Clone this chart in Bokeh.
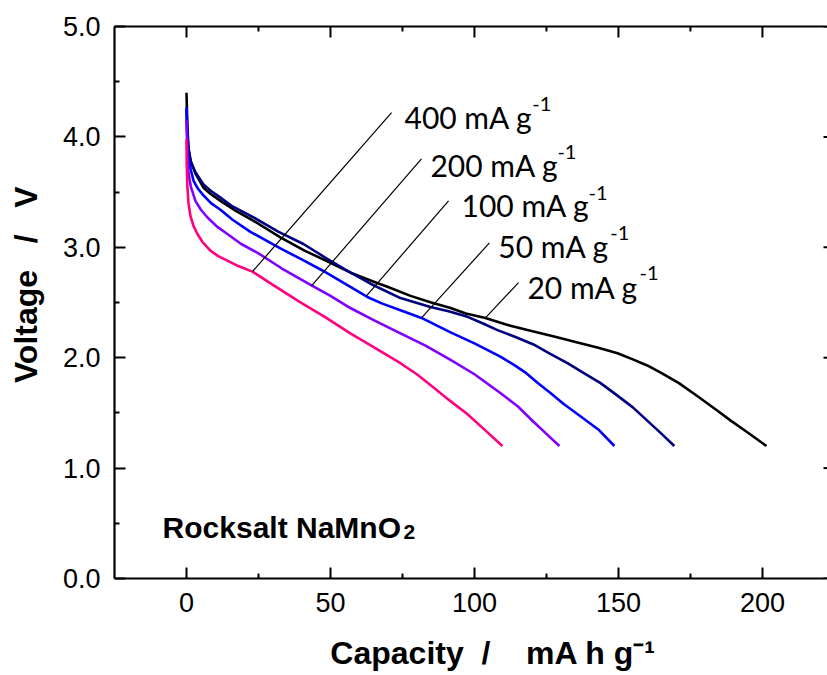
import math
from bokeh.plotting import figure
from bokeh.models import (LinearAxis, Label, ColumnDataSource, FixedTicker,
                          PrintfTickFormatter, Range1d)
from bokeh.core.properties import value
from bokeh.embed import file_html
from bokeh.resources import INLINE

# ---------------- data ----------------
cap_20 = [0, 0.3, 0.7, 1.5, 3.1, 5.9, 8.5, 11.8, 16.5, 23.3, 32.6, 41, 50, 57, 63.9, 70, 77.8,
          85, 91.7, 97, 103.8, 111, 118.4, 128, 136.8, 143, 149.7, 155, 160, 165, 171, 177,
          184.4, 189, 195, 201.4]
volt_20 = [4.40, 4.10, 3.90, 3.78, 3.67, 3.54, 3.48, 3.42, 3.34, 3.24, 3.09, 2.97, 2.86, 2.77,
           2.70, 2.64, 2.56, 2.50, 2.45, 2.40, 2.36, 2.30, 2.25, 2.19, 2.13, 2.09, 2.04, 1.985,
           1.93, 1.86, 1.77, 1.66, 1.52, 1.43, 1.32, 1.20]

cap_50 = [0, 0.3, 0.7, 1.5, 3.1, 5.9, 8.5, 11.8, 16, 23.3, 32, 40.6, 48, 55, 63.9, 74.3, 84.7,
          91, 97.6, 103, 108, 114, 120.5, 126, 132.3, 138, 143.8, 150, 155, 160, 165, 169.4]
volt_50 = [4.25, 4.02, 3.88, 3.77, 3.68, 3.57, 3.51, 3.45, 3.37, 3.27, 3.14, 3.03, 2.91, 2.80,
           2.67, 2.54, 2.46, 2.42, 2.37, 2.31, 2.25, 2.19, 2.12, 2.04, 1.95, 1.86, 1.77, 1.65,
           1.55, 1.43, 1.31, 1.20]

cap_100 = [0, 0.3, 0.7, 1.5, 2.5, 4, 5.9, 8.5, 11.8, 16, 22.2, 32.6, 40, 47.2, 55, 62.8, 68,
           74.3, 81.6, 91.7, 100, 109, 114, 118, 122, 126.4, 131, 136.8, 143, 148.6]
volt_100 = [4.27, 3.98, 3.81, 3.70, 3.60, 3.53, 3.47, 3.40, 3.34, 3.25, 3.14, 2.99, 2.89, 2.79,
            2.67, 2.55, 2.49, 2.43, 2.36, 2.23, 2.13, 2.01, 1.93, 1.86, 1.77, 1.68, 1.58, 1.47,
            1.35, 1.20]

cap_200 = [0, 0.3, 0.7, 1.5, 3.1, 5, 7.3, 10.5, 14.2, 19, 24.7, 33, 43.1, 50, 56.9, 65, 74.3,
           83, 91.7, 100, 109, 115, 120.5, 125, 129.5]
volt_200 = [4.15, 3.85, 3.67, 3.55, 3.42, 3.34, 3.27, 3.19, 3.12, 3.03, 2.95, 2.81, 2.66, 2.56,
            2.45, 2.34, 2.22, 2.11, 1.98, 1.85, 1.68, 1.56, 1.42, 1.31, 1.20]

cap_400 = [0, 0.1, 0.3, 0.7, 1.4, 2.5, 3.8, 5.5, 8.3, 11, 14.2, 18, 22.9, 30, 39, 48, 56.9, 66,
           74.3, 80, 85.8, 91, 97.5, 103, 109.7]
volt_400 = [3.98, 3.75, 3.55, 3.40, 3.28, 3.19, 3.12, 3.05, 2.97, 2.92, 2.88, 2.83, 2.78, 2.66,
            2.51, 2.37, 2.22, 2.08, 1.95, 1.85, 1.73, 1.62, 1.49, 1.36, 1.20]

rate_names = ["400 mA g", "200 mA g", "100 mA g", "50 mA g", "20 mA g"]
x_ticks = [0, 50, 100, 150, 200]
x_minor = [25, 75, 125, 175]
y_ticks = [0, 1, 2, 3, 4, 5]
y_minor = [0.5, 1.5, 2.5, 3.5, 4.5]

# ---------------- annotation layout ----------------
lead_x0 = [71.2, 81.6, 91.0, 105.2, 115.3]
lead_y0 = [4.22, 3.80, 3.42, 3.04, 2.68]
lead_x1 = [22.9, 43.4, 62.5, 81.6, 103.8]
lead_y1 = [2.78, 2.65, 2.56, 2.36, 2.36]
lab_x = [75.7, 84.7, 95.5, 108.3, 118.4]
lab_y = [4.176, 3.741, 3.379, 3.016, 2.636]
sup_x = [120.1, 128.8, 139.6, 147.2, 157.3]
sup_y = [4.294, 3.859, 3.496, 3.134, 2.763]

X_LO, X_HI = -25, 222.6
Y_LO, Y_HI = 0, 5

series = [
    (cap_20, volt_20, "#000000"),
    (cap_50, volt_50, "#000080"),
    (cap_100, volt_100, "#0000FF"),
    (cap_200, volt_200, "#8000FF"),
    (cap_400, volt_400, "#FF0080"),
]

NB = "\u00a0"

p = figure(width=827, height=675, x_range=Range1d(X_LO, X_HI), y_range=Range1d(Y_LO, Y_HI),
           output_backend="svg", toolbar_location=None,
           x_axis_type=None, y_axis_type=None,
           min_border_left=114, min_border_right=0, min_border_top=26, min_border_bottom=97)
p.outline_line_color = None
p.background_fill_color = "white"
p.border_fill_color = "white"


def style(ax):
    ax.axis_line_width = 2.2
    ax.axis_line_color = "black"
    ax.major_tick_in = 11
    ax.major_tick_out = 0
    ax.minor_tick_in = 5
    ax.minor_tick_out = 0
    ax.major_tick_line_width = 2
    ax.minor_tick_line_width = 2
    ax.major_tick_line_color = "black"
    ax.minor_tick_line_color = "black"
    ax.major_label_text_font = "Liberation Sans"
    ax.major_label_text_font_size = "27px"
    ax.major_label_text_color = "black"
    ax.major_label_standoff = 14
    ax.axis_label_text_font = "Liberation Sans"
    ax.axis_label_text_font_style = "bold"
    ax.axis_label_text_font_size = "32px"
    ax.axis_label_text_color = "black"


bx = LinearAxis(ticker=FixedTicker(ticks=x_ticks, minor_ticks=x_minor),
                axis_label=NB * 5 + "Capacity" + NB * 2 + "/" + NB * 4 + "mA h g\u207b\u00b9")
style(bx)
bx.axis_label_standoff = 20
p.add_layout(bx, "below")

ly = LinearAxis(ticker=FixedTicker(ticks=y_ticks, minor_ticks=y_minor),
                formatter=PrintfTickFormatter(format="%.1f"),
                axis_label=NB * 4 + "Voltage" + NB * 3 + "/" + NB * 3 + "V")
style(ly)
ly.axis_label_standoff = 16
p.add_layout(ly, "left")

# top frame line (no ticks of its own) + inward ticks on top and right edges
tx = LinearAxis(ticker=FixedTicker(ticks=[], minor_ticks=[]))
tx.axis_line_width = 2.2
tx.axis_line_color = "black"
tx.major_tick_line_color = None
tx.minor_tick_line_color = None
p.add_layout(tx, "above")

p.ray(x=x_ticks, y=[Y_HI] * len(x_ticks), length=11, length_units="screen",
      angle=-math.pi / 2, line_color="black", line_width=2)
p.ray(x=x_minor, y=[Y_HI] * len(x_minor), length=5, length_units="screen",
      angle=-math.pi / 2, line_color="black", line_width=2)
p.ray(x=[X_HI] * len(y_ticks), y=y_ticks, length=4, length_units="screen",
      angle=math.pi, line_color="black", line_width=2)

for cx, cv, col in series:
    p.line(cx, cv, line_color=col, line_width=2.6, line_join="round")

p.segment(x0=lead_x0, y0=lead_y0, x1=lead_x1, y1=lead_y1, line_color="black", line_width=1.2)

src = ColumnDataSource(dict(x=lab_x, y=lab_y, t=rate_names))
p.text(x="x", y="y", text="t", source=src, text_font=value("Lato"), text_font_size="30px",
       text_color="black", text_align="left", text_baseline="alphabetic")
src2 = ColumnDataSource(dict(x=sup_x, y=sup_y, t=["-1"] * 5))
p.text(x="x", y="y", text="t", source=src2, text_font=value("Lato"), text_font_size="20px",
       text_color="black", text_align="left", text_baseline="alphabetic")

# sample name
p.add_layout(Label(x=-8.3, y=0.462, text="Rocksalt NaMnO", text_font="Liberation Sans",
                   text_font_style="bold", text_font_size="30px", text_color="black",
                   text_align="left", text_baseline="alphabetic"))
p.add_layout(Label(x=75.4, y=0.417, text="2", text_font="Liberation Sans",
                   text_font_style="bold", text_font_size="21px", text_color="black",
                   text_align="left", text_baseline="alphabetic"))

open("out.html", "w").write(file_html(p, INLINE))
